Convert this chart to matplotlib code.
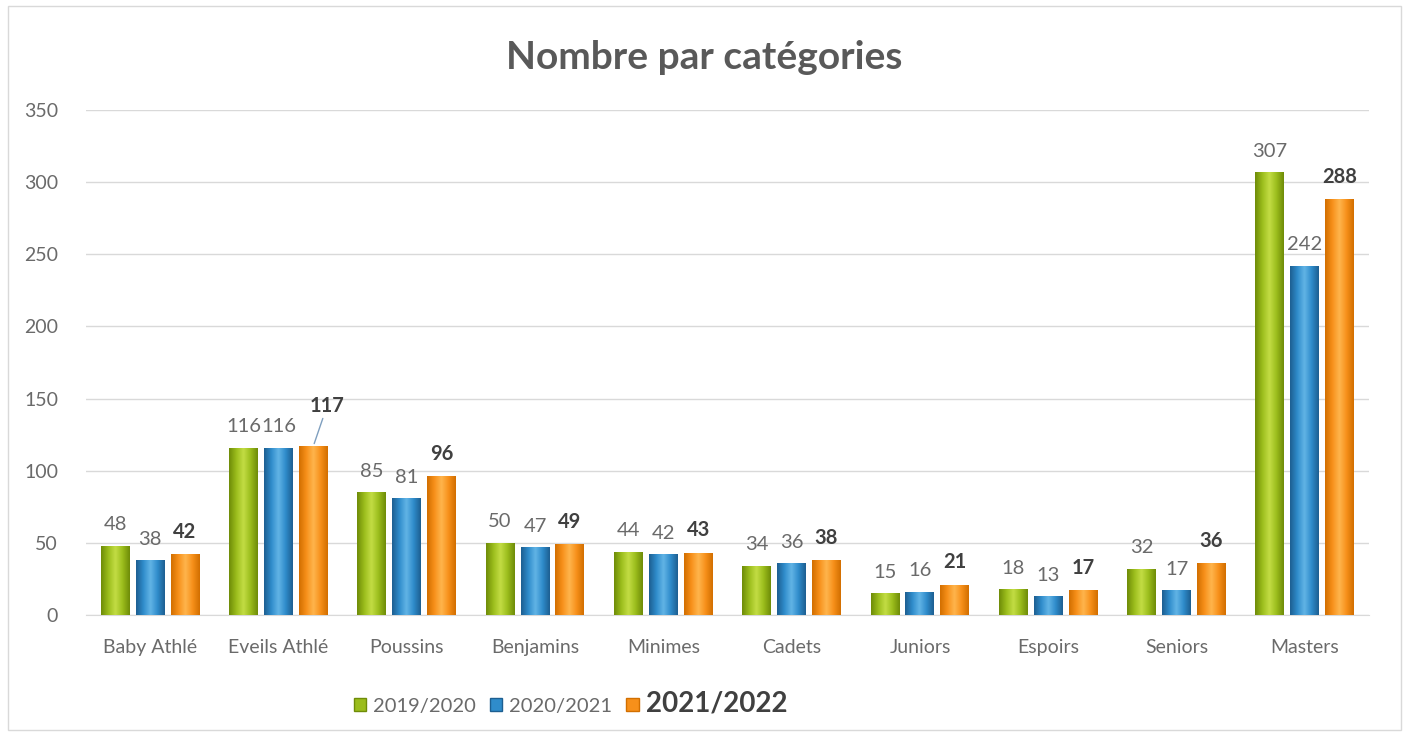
import numpy as np
import matplotlib.pyplot as plt
from matplotlib.patches import Rectangle, Patch
from matplotlib.colors import LinearSegmentedColormap

plt.rcParams['font.family'] = ['Lato', 'DejaVu Sans']

categories = ['Baby Athlé', 'Eveils Athlé', 'Poussins', 'Benjamins', 'Minimes',
              'Cadets', 'Juniors', 'Espoirs', 'Seniors', 'Masters']
s2019 = [48, 116, 85, 50, 44, 34, 15, 18, 32, 307]
s2020 = [38, 116, 81, 47, 42, 36, 16, 13, 17, 242]
s2021 = [42, 117, 96, 49, 43, 38, 21, 17, 36, 288]
series_names = ['2019/2020', '2020/2021', '2021/2022']

# (dark edge, mid, light) per series
palettes = [('#6f8c08', '#9bbd1c', '#c3dd45'),
            ('#1d5f91', '#2f8ccb', '#62b4e6'),
            ('#d26f00', '#f7901a', '#ffb54d')]

fig = plt.figure(figsize=(14.09, 7.36), dpi=100)
ax = fig.add_axes([0.061, 0.1644, 0.9106, 0.6861])

x = np.arange(len(categories))
width = 0.225
pitch = 0.272


def shade(bar, pal):
    # horizontal gradient dark -> light -> dark for the rounded look
    cmap = LinearSegmentedColormap.from_list('c', [pal[0], pal[1], pal[2], pal[1], pal[0]])
    grad = np.linspace(0, 1, 64).reshape(1, -1)
    x0, y0 = bar.get_x(), bar.get_y()
    w, h = bar.get_width(), bar.get_height()
    im = ax.imshow(grad, cmap=cmap, aspect='auto', extent=(x0, x0 + w, y0, y0 + h),
                   zorder=3, interpolation='bicubic')
    im.set_clip_path(bar)


for i, vals in enumerate([s2019, s2020, s2021]):
    bars = ax.bar(x + (i - 1) * pitch, vals, width, color=palettes[i][1],
                  edgecolor='none', zorder=2)
    for k, (b, v) in enumerate(zip(bars, vals)):
        shade(b, palettes[i])
        cx = b.get_x() + b.get_width() / 2
        bold = (i == 2)
        dx, dy = 0, 9
        arrow = None
        if i == 2 and categories[k] == 'Eveils Athlé':
            dx, dy = 10, 22
            arrow = dict(arrowstyle='-', color='#7f9fbf', lw=1, shrinkA=0, shrinkB=2)
        ax.annotate(str(v), (cx, v), xytext=(dx, dy), textcoords='offset points',
                    ha='center', va='bottom', fontsize=14.5,
                    fontweight='bold' if bold else 'normal',
                    color='#404040' if bold else '#6a6a6a', zorder=5,
                    arrowprops=arrow)

ax.set_xlim(-0.5, len(categories) - 0.5)
ax.set_ylim(0, 350)
ax.set_yticks(range(0, 351, 50))
ax.grid(axis='y', color='#d9d9d9', lw=1, zorder=0)
ax.set_axisbelow(True)
for s in ['top', 'right', 'left']:
    ax.spines[s].set_visible(False)
ax.spines['bottom'].set_color('#d9d9d9')
ax.set_xticks(x)
ax.set_xticklabels(categories)
ax.tick_params(axis='both', length=0, labelsize=14, labelcolor='#6a6a6a')
ax.tick_params(axis='x', pad=17)
ax.tick_params(axis='y', pad=20)

fig.text(0.5, 0.922, 'Nombre par catégories', ha='center', va='center',
         fontsize=28, fontweight='bold', color='#595959')

handles = [Patch(facecolor=p[1], edgecolor=p[0]) for p in palettes]
leg = fig.legend(handles, series_names, loc='center', bbox_to_anchor=(0.405, 0.044),
                 ncol=3, frameon=False, fontsize=14.5, handlelength=0.6, handleheight=0.6,
                 handletextpad=0.35, columnspacing=0.7)
for j, t in enumerate(leg.get_texts()):
    t.set_color('#6a6a6a')
    if j == 2:
        t.set_fontsize(20)
        t.set_fontweight('bold')
        t.set_color('#404040')

fig.patches.append(Rectangle((0.006, 0.008), 0.988, 0.984, transform=fig.transFigure,
                             fill=False, edgecolor='#d9d9d9', lw=1))

fig.savefig('out.png', dpi=100)
